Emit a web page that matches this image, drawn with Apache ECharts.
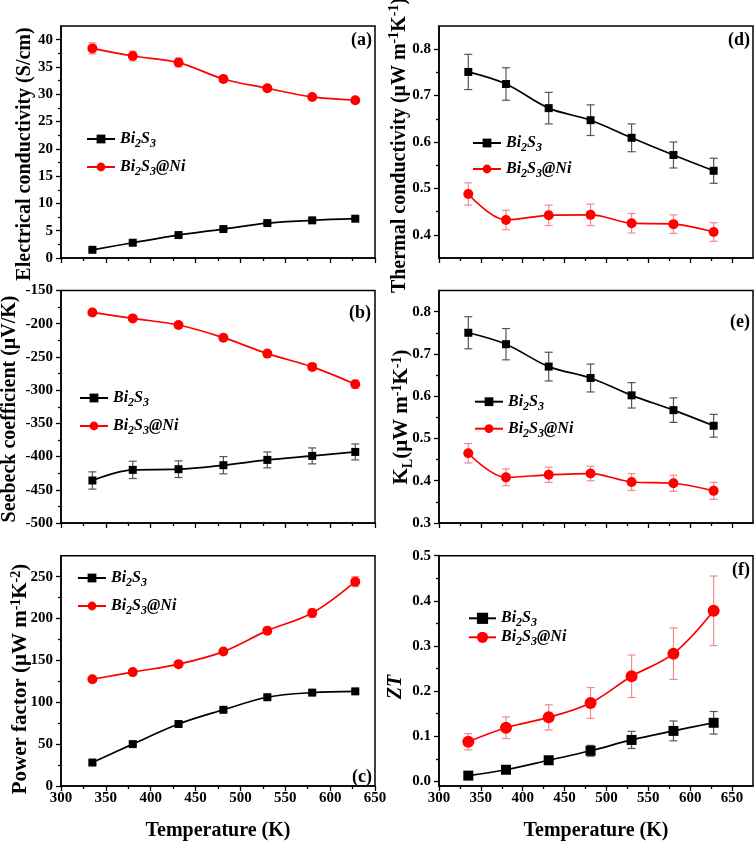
<!DOCTYPE html>
<html><head><meta charset="utf-8">
<script src="https://cdn.jsdelivr.net/npm/echarts@6/dist/echarts.min.js"></script>
<style>html,body{margin:0;padding:0;background:#fff}#c{width:756px;height:842px}</style>
</head><body><div id="c"></div>
<script>
const FONT = '"Liberation Serif","Times New Roman",serif';

// ---------- data ----------
const temps = [335, 380, 431, 481, 530, 580, 628];

// (a) electrical conductivity (S/cm)
const sigmaBi2S3 = [1.5, 2.8, 4.2, 5.3, 6.4, 6.9, 7.2];
const sigmaBi2S3Err = [0.2, 0.2, 0.2, 0.2, 0.2, 0.2, 0.2];
const sigmaNi = [38.4, 37.0, 35.8, 32.8, 31.1, 29.5, 28.9];
const sigmaNiErr = [1.0, 0.9, 0.8, 0.6, 0.5, 0.4, 0.3];

// (b) Seebeck coefficient (uV/K)
const seebeckBi2S3 = [-436, -420, -419, -413, -405, -399, -393];
const seebeckBi2S3Err = [13, 13, 12.5, 13, 12, 12, 12];
const seebeckNi = [-183, -192, -202, -221, -245, -265, -291];
const seebeckNiErr = [2, 2, 2, 3, 3, 4, 6];

// (c) power factor
const pfBi2S3 = [28, 50, 74, 91, 106, 111.5, 113];
const pfBi2S3Err = [2, 2, 2, 2, 2, 2, 2];
const pfNi = [127.5, 136, 145.5, 160.5, 185.5, 206.5, 244];
const pfNiErr = [2, 2, 2, 2, 3, 5, 6];

// (d) thermal conductivity
const kappaBi2S3 = [0.751, 0.725, 0.673, 0.647, 0.609, 0.572, 0.538];
const kappaBi2S3Err = [0.038, 0.035, 0.034, 0.033, 0.030, 0.028, 0.027];
const kappaNi = [0.488, 0.432, 0.442, 0.443, 0.425, 0.423, 0.406];
const kappaNiErr = [0.024, 0.021, 0.022, 0.023, 0.021, 0.020, 0.020];

// (e) lattice thermal conductivity
const kLBi2S3 = [0.750, 0.723, 0.670, 0.643, 0.602, 0.567, 0.530];
const kLBi2S3Err = [0.038, 0.037, 0.034, 0.033, 0.030, 0.029, 0.027];
const kLNi = [0.465, 0.408, 0.414, 0.417, 0.397, 0.394, 0.376];
const kLNiErr = [0.023, 0.020, 0.018, 0.017, 0.020, 0.019, 0.020];

// (f) ZT
const ztBi2S3 = [0.013, 0.026, 0.047, 0.068, 0.092, 0.112, 0.130];
const ztBi2S3Err = [0.004, 0.005, 0.006, 0.012, 0.019, 0.022, 0.025];
const ztNi = [0.088, 0.119, 0.142, 0.174, 0.233, 0.283, 0.378];
const ztNiErr = [0.018, 0.024, 0.028, 0.034, 0.047, 0.057, 0.077];

// ---------- tick labels ----------
const xTicks = [300, 350, 400, 450, 500, 550, 600, 650];
const yTicksA = [0, 5, 10, 15, 20, 25, 30, 35, 40];
const yTicksB = [-500, -450, -400, -350, -300, -250, -200, -150];
const yTicksC = [0, 50, 100, 150, 200, 250];
const yTicksD = [0.4, 0.5, 0.6, 0.7, 0.8];
const yTicksE = [0.3, 0.4, 0.5, 0.6, 0.7, 0.8];
const yTicksF = [0.0, 0.1, 0.2, 0.3, 0.4, 0.5];

function mids(a) { const r = []; for (let i = 0; i < a.length - 1; i++) r.push(+((a[i] + a[i + 1]) / 2).toFixed(4)); return r; }

// ---------- layout ----------
const panels = [
  { grid: {left: 61, top: 26, width: 314, height: 232}, xMax: 650, xLabels: false,
    yMin: 0, yMax: 42.5, yTicks: yTicksA, yFix: null,
    black: sigmaBi2S3, blackErr: sigmaBi2S3Err, red: sigmaNi, redErr: sigmaNiErr, sym: [8, 10],
    legend: {left: 86, top: 131, gap: 9, w: 28, h: 11},
    label: {text: '(a)', x: 372, y: 40},
    title: {text: 'Electrical conductivity (S/cm)', x: 25, y: 154, size: 20} },
  { grid: {left: 61, top: 290.5, width: 314, height: 232.5}, xMax: 650, xLabels: false,
    yMin: -500, yMax: -150, yTicks: yTicksB, yFix: null,
    black: seebeckBi2S3, blackErr: seebeckBi2S3Err, red: seebeckNi, redErr: seebeckNiErr, sym: [8, 10],
    legend: {left: 79, top: 390, gap: 9, w: 28, h: 11},
    label: {text: '(b)', x: 371, y: 313},
    title: {text: 'Seebeck coefficient (μV/K)', x: 9.5, y: 409, size: 20} },
  { grid: {left: 61, top: 555.7, width: 314, height: 231}, xMax: 650, xLabels: true,
    yMin: 0, yMax: 275, yTicks: yTicksC, yFix: null,
    black: pfBi2S3, blackErr: pfBi2S3Err, red: pfNi, redErr: pfNiErr, sym: [8, 10],
    legend: {left: 77, top: 570, gap: 9, w: 28, h: 11},
    label: {text: '(c)', x: 372, y: 777},
    title: {text: 'Power factor (μW m{sup|-1}K{sup|-2})', x: 21, y: 679, size: 21} },
  { grid: {left: 439, top: 26, width: 314, height: 232}, xMax: 675, xLabels: false,
    yMin: 0.35, yMax: 0.85, yTicks: yTicksD, yFix: 1,
    black: kappaBi2S3, blackErr: kappaBi2S3Err, red: kappaNi, redErr: kappaNiErr, sym: [8, 10],
    legend: {left: 472, top: 135, gap: 7, w: 28, h: 11},
    label: {text: '(d)', x: 750, y: 40},
    title: {text: 'Thermal conductivity (μW m{sup|-1}K{sup|-1})', x: 399.5, y: 145.5, size: 20} },
  { grid: {left: 439, top: 290.5, width: 314, height: 232.5}, xMax: 675, xLabels: false,
    yMin: 0.3, yMax: 0.85, yTicks: yTicksE, yFix: 1,
    black: kLBi2S3, blackErr: kLBi2S3Err, red: kLNi, redErr: kLNiErr, sym: [8, 10],
    legend: {left: 474, top: 393.7, gap: 8, w: 28, h: 11},
    label: {text: '(e)', x: 750, y: 322},
    title: {text: 'K{sub|L}(μW m{sup|-1}K{sup|-1})', x: 402, y: 417, size: 21} },
  { grid: {left: 439, top: 555.7, width: 314, height: 231}, xMax: 675, xLabels: true,
    yMin: -0.01, yMax: 0.5, yTicks: yTicksF, yFix: 1,
    black: ztBi2S3, blackErr: ztBi2S3Err, red: ztNi, redErr: ztNiErr, sym: [10, 12],
    legend: {left: 468, top: 610.3, gap: 0, w: 27, h: 14},
    label: {text: '(f)', x: 750, y: 570},
    title: {text: 'ZT', x: 396, y: 687, size: 20, italic: true} }
];

const axisTxt = {color: '#000', fontFamily: FONT, fontWeight: 'bold', fontSize: 15};
const tickLine = {color: '#000', width: 1.3};

const grids = [], xAxes = [], yAxes = [], series = [], legends = [], graphics = [];

function errSeries(gi, xs, ys, es, color) {
  return {
    type: 'custom', xAxisIndex: 2 * gi, yAxisIndex: 2 * gi, z: 1, silent: true,
    data: xs.map((x, i) => [x, ys[i] - es[i], ys[i] + es[i]]),
    encode: {x: 0, y: [1, 2]},
    renderItem: function (params, api) {
      const x = api.value(0);
      const lo = api.coord([x, api.value(1)]);
      const hi = api.coord([x, api.value(2)]);
      const w = 4;
      const st = {stroke: color, lineWidth: 1.2};
      return {type: 'group', children: [
        {type: 'line', shape: {x1: lo[0], y1: lo[1], x2: hi[0], y2: hi[1]}, style: st},
        {type: 'line', shape: {x1: lo[0] - w, y1: lo[1], x2: lo[0] + w, y2: lo[1]}, style: st},
        {type: 'line', shape: {x1: hi[0] - w, y1: hi[1], x2: hi[0] + w, y2: hi[1]}, style: st}
      ]};
    }
  };
}

const legendRich = {
  i: {fontFamily: FONT, fontWeight: 'bold', fontStyle: 'italic', fontSize: 16, lineHeight: 14},
  s: {fontFamily: FONT, fontWeight: 'bold', fontStyle: 'italic', fontSize: 12, lineHeight: 14, height: 4, verticalAlign: 'bottom'}
};
function legendFmt(name) {
  return name === 'Bi2S3' ? '{i|Bi}{s|2}{i|S}{s|3}' : '{i|Bi}{s|2}{i|S}{s|3}{i|@Ni}';
}

panels.forEach((p, gi) => {
  grids.push(Object.assign({show: true, borderColor: '#000', borderWidth: 1.5, containLabel: false}, p.grid));
  const xMinor = mids(xTicks);
  const yMinor = mids(p.yTicks);
  xAxes.push({
    type: 'value', gridIndex: gi, position: 'bottom', min: 300, max: p.xMax,
    axisLine: {show: true, onZero: false, lineStyle: {color: '#000', width: 1.5}},
    splitLine: {show: false},
    axisTick: {show: true, length: 5, lineStyle: tickLine, customValues: xTicks},
    axisLabel: Object.assign({show: p.xLabels, margin: 5, customValues: xTicks}, axisTxt),
    name: p.xLabels ? 'Temperature (K)' : '', nameLocation: 'middle', nameGap: 35,
    nameTextStyle: {fontFamily: FONT, fontWeight: 'bold', fontSize: 20, color: '#000'}
  });
  xAxes.push({
    type: 'value', gridIndex: gi, position: 'bottom', min: 300, max: p.xMax,
    axisLine: {show: false, onZero: false}, splitLine: {show: false}, axisLabel: {show: false},
    axisTick: {show: true, length: 3, lineStyle: tickLine, customValues: xMinor}
  });
  const fmt = p.yFix ? (v => Number(v).toFixed(p.yFix)) : (v => String(v));
  yAxes.push({
    type: 'value', gridIndex: gi, position: 'left', min: p.yMin, max: p.yMax,
    axisLine: {show: true, onZero: false, lineStyle: {color: '#000', width: 1.5}},
    splitLine: {show: false},
    axisTick: {show: true, length: 5, lineStyle: tickLine, customValues: p.yTicks},
    axisLabel: Object.assign({show: true, margin: 8, customValues: p.yTicks, formatter: fmt}, axisTxt)
  });
  yAxes.push({
    type: 'value', gridIndex: gi, position: 'left', min: p.yMin, max: p.yMax,
    axisLine: {show: false, onZero: false}, splitLine: {show: false}, axisLabel: {show: false},
    axisTick: {show: true, length: 3, lineStyle: tickLine, customValues: yMinor}
  });

  series.push(errSeries(gi, temps, p.black, p.blackErr, '#555555'));
  series.push(errSeries(gi, temps, p.red, p.redErr, '#f28b8b'));
  series.push({
    type: 'line', name: 'Bi2S3', xAxisIndex: 2 * gi, yAxisIndex: 2 * gi, z: 3,
    data: temps.map((t, i) => [t, p.black[i]]),
    symbol: 'rect', symbolSize: p.sym[0], smooth: 0.35,
    itemStyle: {color: '#000'}, lineStyle: {color: '#000', width: 1.7}
  });
  series.push({
    type: 'line', name: 'Bi2S3@Ni', xAxisIndex: 2 * gi, yAxisIndex: 2 * gi, z: 3,
    data: temps.map((t, i) => [t, p.red[i]]),
    symbol: 'circle', symbolSize: p.sym[1], smooth: 0.35,
    itemStyle: {color: '#ff0000'}, lineStyle: {color: '#ff0000', width: 1.7}
  });

  legends.push({
    data: ['Bi2S3', 'Bi2S3@Ni'], orient: 'vertical', left: p.legend.left, top: p.legend.top,
    itemGap: p.legend.gap, itemWidth: p.legend.w, itemHeight: p.legend.h, padding: 0,
    selectedMode: false, formatter: legendFmt,
    textStyle: {fontFamily: FONT, fontWeight: 'bold', fontStyle: 'italic', fontSize: 16, color: '#000', lineHeight: 14, rich: legendRich}
  });

  graphics.push({
    type: 'text', x: p.label.x, y: p.label.y, z: 10,
    style: {text: p.label.text, fontFamily: FONT, fontWeight: 'bold', fontSize: 18, fill: '#000', align: 'right', verticalAlign: 'middle'}
  });
  graphics.push({
    type: 'text', x: p.title.x, y: p.title.y, rotation: Math.PI / 2, z: 10,
    style: {
      text: p.title.text, fontFamily: FONT, fontWeight: 'bold', fontStyle: p.title.italic ? 'italic' : 'normal',
      fontSize: p.title.size, fill: '#000', align: 'center', verticalAlign: 'middle', lineHeight: 24,
      rich: {
        sup: {fontFamily: FONT, fontWeight: 'bold', fontSize: 14, lineHeight: 24, verticalAlign: 'top'},
        sub: {fontFamily: FONT, fontWeight: 'bold', fontSize: 14, lineHeight: 24, height: 11, verticalAlign: 'bottom'}
      }
    }
  });
});

const chart = echarts.init(document.getElementById('c'), null, {renderer: 'canvas'});
chart.setOption({
  animation: false,
  backgroundColor: '#fff',
  grid: grids, xAxis: xAxes, yAxis: yAxes, series: series, legend: legends, graphic: graphics
});
</script>
</body></html>
